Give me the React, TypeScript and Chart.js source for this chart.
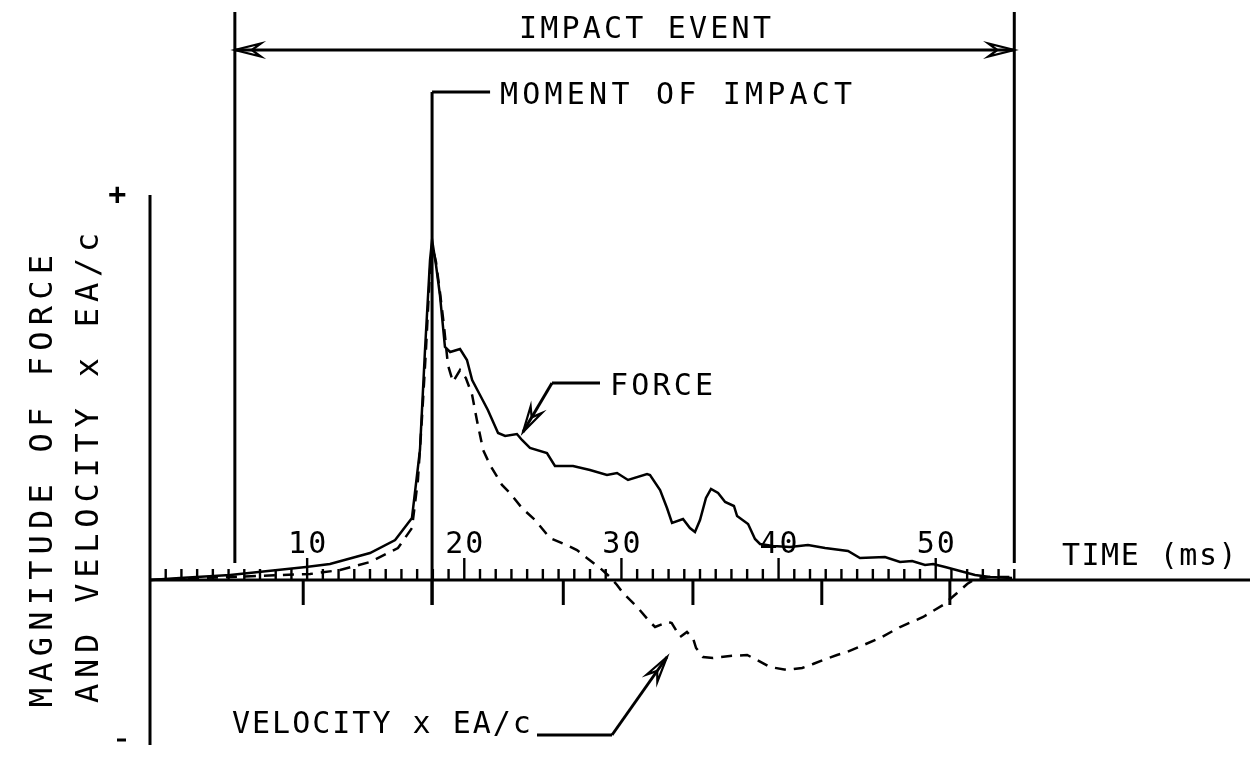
import React, { useEffect, useRef } from "react";
import { Chart, registerables } from "chart.js";

Chart.register(...registerables);

// ---- Data (time in ms, magnitude in arbitrary units) ----
const forceTime = [0, 1.9, 5.1, 9.93, 11.45, 14.0, 15.6, 16.67, 17.18, 17.5, 17.82, 17.95, 18.2, 18.45, 18.77, 19.1, 19.73, 20.17, 20.5, 21.0, 21.5, 22.15, 22.6, 23.35, 23.67, 24.18, 25.26, 25.77, 26.92, 28.0, 29.08, 29.72, 30.42, 31.63, 31.82, 32.46, 32.9, 33.22, 33.92, 34.36, 34.68, 35.0, 35.38, 35.7, 36.15, 36.6, 37.16, 37.36, 38.06, 38.5, 38.82, 39.65, 40.73, 41.87, 42.96, 44.42, 45.18, 46.77, 47.73, 48.5, 49.32, 49.83, 50.6, 51.55, 52.5, 53.46, 54.86];
const forceValue = [0, 0.02, 0.05, 0.13, 0.16, 0.27, 0.4, 0.62, 1.3, 2.3, 3.2, 3.4, 3.15, 2.85, 2.33, 2.28, 2.31, 2.2, 2.0, 1.85, 1.7, 1.47, 1.44, 1.46, 1.4, 1.32, 1.27, 1.14, 1.14, 1.1, 1.05, 1.07, 1.0, 1.06, 1.05, 0.9, 0.72, 0.57, 0.61, 0.52, 0.48, 0.6, 0.82, 0.91, 0.87, 0.78, 0.74, 0.64, 0.56, 0.41, 0.36, 0.34, 0.33, 0.35, 0.32, 0.29, 0.22, 0.23, 0.18, 0.19, 0.15, 0.16, 0.13, 0.09, 0.05, 0.03, 0.02];

const velocityTime = [0, 5.1, 10.18, 12.1, 14.0, 15.78, 16.67, 17.05, 17.3, 17.56, 17.82, 17.95, 18.2, 18.45, 18.7, 18.96, 19.28, 19.73, 20.1, 20.5, 20.8, 21.2, 21.64, 22.4, 22.9, 23.67, 24.5, 25.45, 26.5, 27.17, 27.8, 28.64, 29.27, 29.72, 30.1, 31.0, 31.82, 32.14, 32.96, 33.2, 33.73, 34.17, 34.55, 34.75, 35.19, 35.83, 36.9, 38.0, 38.63, 39.45, 40.54, 41.5, 42.19, 42.83, 43.72, 44.36, 46.46, 47.73, 49.2, 50.46, 51.36, 52.0, 52.5, 53.46, 54.86];
const velocityValue = [0, 0.03, 0.06, 0.1, 0.18, 0.32, 0.52, 1.0, 1.6, 2.3, 3.1, 3.35, 3.18, 2.88, 2.55, 2.15, 1.98, 2.1, 2.02, 1.85, 1.6, 1.3, 1.15, 0.95, 0.87, 0.72, 0.6, 0.42, 0.35, 0.3, 0.22, 0.12, 0.03, -0.05, -0.13, -0.27, -0.42, -0.47, -0.42, -0.43, -0.57, -0.52, -0.58, -0.68, -0.77, -0.78, -0.76, -0.75, -0.8, -0.87, -0.9, -0.88, -0.84, -0.8, -0.75, -0.72, -0.58, -0.47, -0.37, -0.25, -0.13, -0.04, 0.01, 0.03, 0.03];

const labeledTicks = [10, 20, 30, 40, 50];
const labeledTickText = ["10", "20", "30", "40", "50"];
const lowerTicks = [9.75, 17.95, 26.3, 34.55, 42.75, 50.9];
const minorTickFirst = 1;
const minorTickLast = 55;
const impactStart = 5.4;
const impactEnd = 55;
const momentOfImpact = 17.95;

const xMin = 0;
const xMax = 70;
const yMin = -1.65;
const yMax = 3.85;

const FONT = '"DejaVu Sans Mono", monospace';

function drawOpenArrow(ctx: CanvasRenderingContext2D, tx: number, ty: number, fx: number, fy: number) {
  const dx = fx - tx, dy = fy - ty;
  const len = Math.hypot(dx, dy);
  const ux = dx / len, uy = dy / len;
  const px = -uy, py = ux;
  const L = 26, W = 6.5, N = 17;
  const bx = tx + ux * L, by = ty + uy * L;
  const nx = tx + ux * N, ny = ty + uy * N;
  ctx.beginPath();
  ctx.moveTo(nx, ny);
  ctx.lineTo(bx + px * W, by + py * W);
  ctx.lineTo(tx, ty);
  ctx.lineTo(bx - px * W, by - py * W);
  ctx.lineTo(nx, ny);
  ctx.stroke();
}

const drawingPlugin = {
  id: "drawing",
  afterDatasetsDraw(chart: any) {
    const ctx: CanvasRenderingContext2D = chart.ctx;
    const xs = chart.scales.x;
    const ys = chart.scales.y;
    const area = chart.chartArea;
    const X = (v: number) => xs.getPixelForValue(v);
    const Y = (v: number) => ys.getPixelForValue(v);
    const y0 = Y(0);
    const line = (x1: number, y1: number, x2: number, y2: number, w: number) => {
      ctx.lineWidth = w;
      ctx.beginPath();
      ctx.moveTo(x1, y1);
      ctx.lineTo(x2, y2);
      ctx.stroke();
    };
    ctx.save();
    ctx.strokeStyle = "#000";
    ctx.fillStyle = "#000";
    ctx.lineCap = "butt";
    ctx.lineJoin = "miter";

    // axes
    line(X(0), y0, area.right, y0, 3.2);
    line(X(0), area.top, X(0), area.bottom, 3);

    // minor ticks (upward)
    for (let t = minorTickFirst; t <= minorTickLast; t++) {
      const major = labeledTicks.indexOf(t) >= 0;
      line(X(t), y0, X(t), y0 - (major ? 22 : 11), 2.4);
    }
    // lower ticks (downward)
    lowerTicks.forEach((t) => line(X(t), y0, X(t), y0 + 25, 3));

    // tick labels
    ctx.font = `30px ${FONT}`;
    (ctx as any).letterSpacing = "2px";
    ctx.textAlign = "center";
    ctx.textBaseline = "alphabetic";
    labeledTicks.forEach((t, i) => ctx.fillText(labeledTickText[i], X(t) + 1, y0 - 27));

    // axis end labels
    (ctx as any).letterSpacing = "1.5px";
    ctx.textAlign = "left";
    ctx.fillText("TIME (ms)", 1062, y0 - 15);
    ctx.font = `bold 30px ${FONT}`;
    ctx.textAlign = "center";
    ctx.fillText("+", X(0) - 32, area.top + 9);
    line(X(0) - 33, area.bottom - 5, X(0) - 24, area.bottom - 5, 3);

    // impact event
    const xa = X(impactStart), xb = X(impactEnd);
    line(xa, 12, xa, y0 - 17, 3);
    line(xb, 12, xb, y0 - 17, 3);
    line(xa, 50, xb, 50, 3);
    ctx.lineWidth = 2.2;
    drawOpenArrow(ctx, xa, 50, xb, 50);
    drawOpenArrow(ctx, xb, 50, xa, 50);
    ctx.font = `30px ${FONT}`;
    (ctx as any).letterSpacing = "3.2px";
    ctx.textAlign = "center";
    ctx.fillText("IMPACT EVENT", (xa + xb) / 2 + 22, 38);

    // moment of impact
    const xm = X(momentOfImpact);
    line(xm, 92, xm, y0 + 25, 3);
    line(xm, 92, xm + 58, 92, 3);
    ctx.textAlign = "left";
    (ctx as any).letterSpacing = "4.2px";
    ctx.fillText("MOMENT OF IMPACT", xm + 68, 104);

    // FORCE label
    (ctx as any).letterSpacing = "3.2px";
    ctx.fillText("FORCE", 610, 395);
    line(600, 383, 552, 383, 3);
    line(552, 383, 523, 432, 3);
    ctx.lineWidth = 2.2;
    drawOpenArrow(ctx, 523, 432, 552, 383);

    // VELOCITY label
    (ctx as any).letterSpacing = "2px";
    ctx.fillText("VELOCITY x EA/c", 232, 733);
    line(537, 735, 612, 735, 3);
    line(612, 735, 667, 657, 3);
    ctx.lineWidth = 2.2;
    drawOpenArrow(ctx, 667, 657, 612, 735);

    // y-axis title
    ctx.font = `32px ${FONT}`;
    ctx.textAlign = "center";
    ctx.textBaseline = "middle";
    ctx.save();
    (ctx as any).letterSpacing = "6.2px";
    ctx.translate(44, 478);
    ctx.rotate(-Math.PI / 2);
    ctx.fillText("MAGNITUDE OF FORCE", 0, 0);
    ctx.restore();
    ctx.save();
    (ctx as any).letterSpacing = "5.8px";
    ctx.translate(90, 465);
    ctx.rotate(-Math.PI / 2);
    ctx.fillText("AND VELOCITY x EA/c", 0, 0);
    ctx.restore();

    ctx.restore();
  },
};

export default function App() {
  const ref = useRef<HTMLCanvasElement | null>(null);
  useEffect(() => {
    if (!ref.current) return;
    const chart = new Chart(ref.current, {
      type: "line",
      data: {
        datasets: [
          {
            label: "Force",
            data: forceTime.map((t, i) => ({ x: t, y: forceValue[i] })),
            borderColor: "#000",
            borderWidth: 2.5,
            pointRadius: 0,
            tension: 0,
            fill: false,
          },
          {
            label: "Velocity x EA/c",
            data: velocityTime.map((t, i) => ({ x: t, y: velocityValue[i] })),
            borderColor: "#000",
            borderWidth: 2.5,
            borderDash: [11, 8],
            pointRadius: 0,
            tension: 0,
            fill: false,
          },
        ],
      },
      options: {
        animation: false,
        responsive: false,
        maintainAspectRatio: false,
        layout: { padding: { left: 150, right: 1, top: 195, bottom: 13 } },
        plugins: { legend: { display: false }, tooltip: { enabled: false } },
        scales: {
          x: { type: "linear", min: xMin, max: xMax, display: false },
          y: { type: "linear", min: yMin, max: yMax, display: false },
        },
      },
      plugins: [drawingPlugin],
    });
    return () => chart.destroy();
  }, []);
  return (
    <div style={{ position: "absolute", left: 0, top: 0, width: 1251, height: 758, background: "#fff" }}>
      <canvas ref={ref} width={1251} height={758} style={{ display: "block" }} />
    </div>
  );
}
